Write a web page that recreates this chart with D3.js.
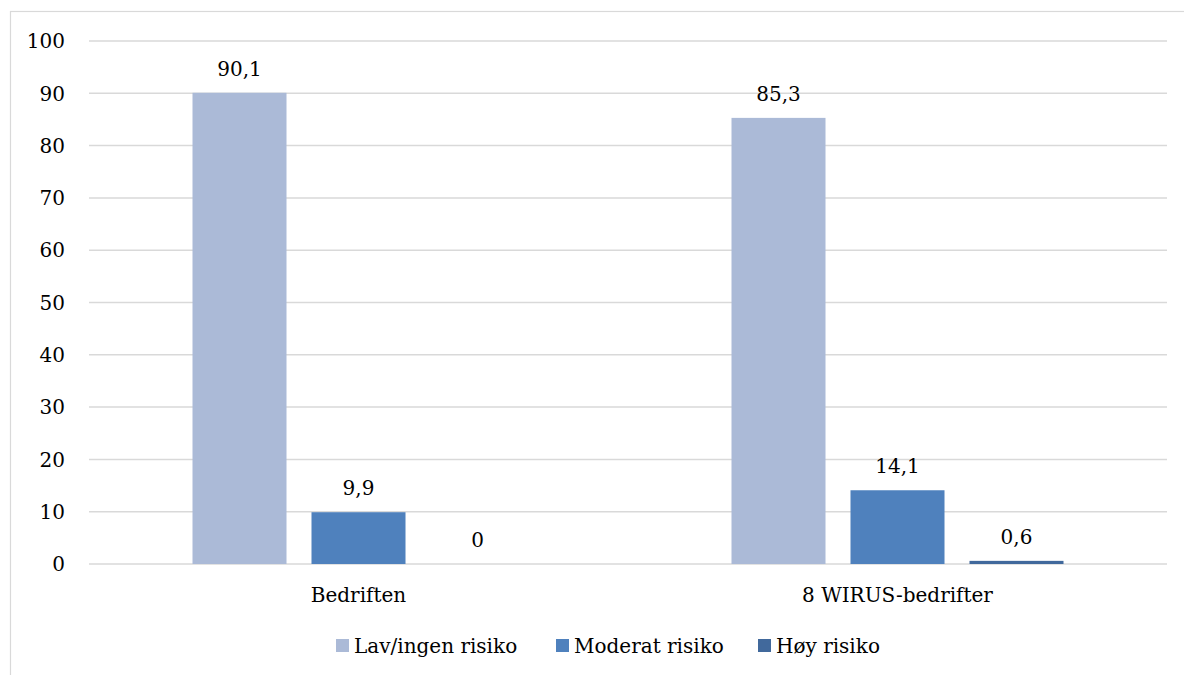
<!DOCTYPE html>
<html><head><meta charset="utf-8">
<script src="https://cdn.jsdelivr.net/npm/d3@7"></script>
<style>body{margin:0;background:#fff;} svg{display:block;}</style>
</head><body>
<svg id="c" width="1184" height="675"></svg>
<script>
const categories = ["Bedriften", "8 WIRUS-bedrifter"];
const seriesNames = ["Lav/ingen risiko", "Moderat risiko", "Høy risiko"];
const lavIngen = [90.1, 85.3];
const moderat = [9.9, 14.1];
const hoy = [0, 0.6];
const yTicks = [0, 10, 20, 30, 40, 50, 60, 70, 80, 90, 100];
const colors = ["#ABBAD7", "#4F81BD", "#41699C"];

const seriesValues = [lavIngen, moderat, hoy];
const svg = d3.select("#c");
const font = "DejaVu Serif";
const m = {left: 89, right: 1167, top: 41, bottom: 564};

// frame
svg.append("rect").attr("x", 10.5).attr("y", 11.5).attr("width", 1200).attr("height", 700)
  .attr("fill", "#fff").attr("stroke", "#D9D9D9").attr("stroke-width", 1.2);

const x0 = d3.scaleBand().domain(categories).range([m.left, m.right]);
const x1 = d3.scaleBand().domain(seriesNames).range([0, 332]).paddingInner(0.21);
const y = d3.scaleLinear().domain([0, 100]).range([m.bottom, m.top]);

// gridlines
svg.append("g").selectAll("line").data(yTicks).join("line")
  .attr("x1", m.left).attr("x2", m.right)
  .attr("y1", d => y(d)).attr("y2", d => y(d))
  .attr("stroke", "#D9D9D9").attr("stroke-width", 1.5);

// y tick labels
svg.append("g").selectAll("text").data(yTicks).join("text")
  .attr("x", 65).attr("y", d => y(d)).attr("dy", "0.36em")
  .attr("text-anchor", "end").attr("font-family", font).attr("font-size", 20)
  .attr("fill", "#000").text(d => d);

// bars
const groups = svg.append("g").selectAll("g").data(categories).join("g")
  .attr("transform", c => `translate(${x0(c) + x0.bandwidth()/2 - 166},0)`);

groups.each(function(c, ci) {
  const g = d3.select(this);
  seriesNames.forEach((s, si) => {
    const v = seriesValues[si][ci];
    g.append("rect").attr("x", x1(s)).attr("width", x1.bandwidth())
      .attr("y", y(v)).attr("height", Math.max(0, y(0) - y(v)))
      .attr("fill", colors[si]);
    g.append("text").attr("x", x1(s) + x1.bandwidth()/2).attr("y", y(v) - 17)
      .attr("text-anchor", "middle").attr("font-family", font).attr("font-size", 20)
      .attr("fill", "#000").text(String(v).replace(".", ","));
  });
});

// category labels
svg.append("g").selectAll("text").data(categories).join("text")
  .attr("x", c => x0(c) + x0.bandwidth()/2).attr("y", 602)
  .attr("text-anchor", "middle").attr("font-family", font).attr("font-size", 20)
  .attr("fill", "#000").text(c => c);

// legend
const legendX = [336, 556, 758];
const lg = svg.append("g");
seriesNames.forEach((s, i) => {
  lg.append("rect").attr("x", legendX[i]).attr("y", 639).attr("width", 13).attr("height", 13).attr("fill", colors[i]);
  lg.append("text").attr("x", legendX[i] + 18).attr("y", 653)
    .attr("font-family", font).attr("font-size", 20).attr("fill", "#000").text(s);
});
</script>
</body></html>
